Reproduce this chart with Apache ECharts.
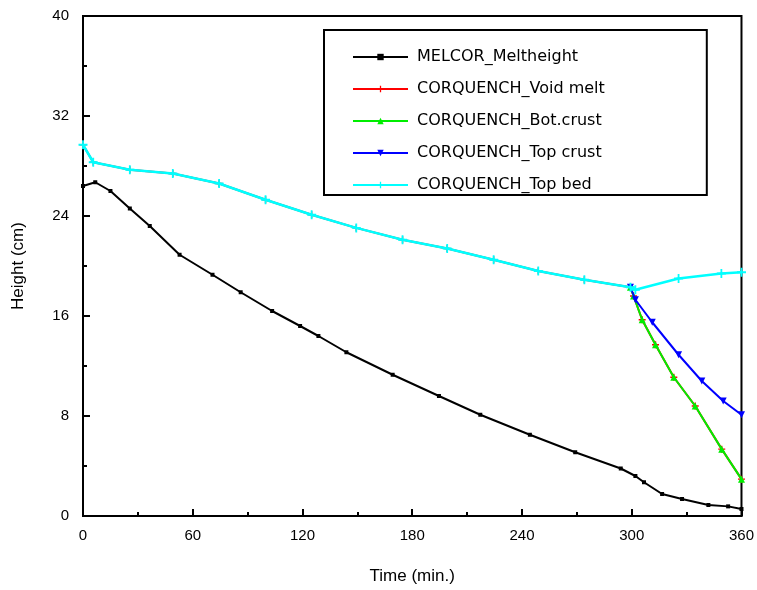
<!DOCTYPE html>
<html>
<head>
<meta charset="utf-8">
<script src="https://cdn.jsdelivr.net/npm/echarts@6/dist/echarts.min.js"></script>
<style>html,body{margin:0;padding:0;background:#fff}#c{width:757px;height:590px}</style>
</head>
<body>
<div id="c"></div>
<script>
// Data (time in min, height in cm)
const seriesNames = ['MELCOR_Meltheight','CORQUENCH_Void melt','CORQUENCH_Bot.crust','CORQUENCH_Top crust','CORQUENCH_Top bed'];
const melcorT = [0, 6.7, 15, 25.6, 36.5, 52.8, 70.8, 86.2, 103.4, 118.7, 128.7, 144, 169.3, 194.6, 217.2, 244.3, 269.1, 294, 302, 306.7, 316.6, 327.5, 341.9, 352.7, 360];
const melcorH = [26.4, 26.7, 26.0, 24.6, 23.2, 20.9, 19.3, 17.9, 16.4, 15.2, 14.4, 13.1, 11.3, 9.6, 8.1, 6.5, 5.1, 3.8, 3.2, 2.7, 1.76, 1.36, 0.88, 0.77, 0.56];
const topBedT = [0, 5.6, 25.6, 49.1, 74.4, 99.8, 125, 149.4, 174.7, 199.1, 224.5, 248.9, 274.1, 299.3, 302, 325.6, 349, 360];
const topBedH = [29.7, 28.3, 27.7, 27.4, 26.6, 25.3, 24.1, 23.05, 22.1, 21.4, 20.5, 19.6, 18.9, 18.3, 18.1, 19.0, 19.4, 19.5];
const voidT = [0, 5.6, 25.6, 49.1, 74.4, 99.8, 125, 149.4, 174.7, 199.1, 224.5, 248.9, 274.1, 299.3, 301, 305.7, 313, 323, 334.7, 349.2, 360];
const voidH = [29.7, 28.3, 27.7, 27.4, 26.6, 25.3, 24.1, 23.05, 22.1, 21.4, 20.5, 19.6, 18.9, 18.3, 17.6, 15.7, 13.7, 11.1, 8.8, 5.35, 2.95];
const botT = [299.3, 301, 305.7, 313, 323, 334.7, 349.2, 360];
const botH = [18.3, 17.6, 15.7, 13.7, 11.1, 8.8, 5.35, 2.95];
const topCrustT = [299.3, 302, 311.2, 325.6, 338.3, 350, 360];
const topCrustH = [18.3, 17.3, 15.5, 12.9, 10.8, 9.2, 8.1];
const xTicks = [0, 60, 120, 180, 240, 300, 360];
const yTicks = [0, 8, 16, 24, 32, 40];

const zip = (a, b) => a.map((v, i) => [v, b[i]]);
const cross = 'path://M4,0 L6,0 L6,4 L10,4 L10,6 L6,6 L6,10 L4,10 L4,6 L0,6 L0,4 L4,4 Z';
const font = 'Liberation Sans, Arial, sans-serif';

const chart = echarts.init(document.getElementById('c'), null, {renderer: 'canvas'});
chart.setOption({
  animation: false,
  backgroundColor: '#fff',
  grid: {left: 83, right: 10, top: 16, bottom: 73, show: true, borderColor: '#000', borderWidth: 2, backgroundColor: 'transparent'},
  legend: {
    orient: 'vertical', left: 324, top: 30,
    data: seriesNames,
    itemWidth: 55, itemHeight: 8, itemGap: 16,
    padding: [19, 102, 2, 28],
    borderColor: '#000', borderWidth: 2,
    textStyle: {fontFamily: 'DejaVu Sans, sans-serif', fontSize: 16, color: '#000', padding: [0, 0, 0, 4]}
  },
  xAxis: {
    type: 'value', min: xTicks[0], max: xTicks[xTicks.length - 1], interval: 60,
    name: 'Time (min.)', nameLocation: 'middle', nameGap: 52,
    nameTextStyle: {fontFamily: font, fontSize: 17, color: '#000'},
    axisLine: {lineStyle: {color: '#000', width: 2}},
    axisTick: {inside: true, length: 7, lineStyle: {color: '#000', width: 2}},
    minorTick: {show: true, splitNumber: 2, length: 4, lineStyle: {color: '#000', width: 2}},
    axisLabel: {fontFamily: font, fontSize: 15, color: '#000', margin: 12},
    splitLine: {show: false}
  },
  yAxis: {
    type: 'value', min: yTicks[0], max: yTicks[yTicks.length - 1], interval: 8,
    name: 'Height (cm)', nameLocation: 'middle', nameGap: 56, nameRotate: 90,
    nameTextStyle: {fontFamily: font, fontSize: 17, color: '#000'},
    axisLine: {lineStyle: {color: '#000', width: 2}},
    axisTick: {inside: true, length: 7, lineStyle: {color: '#000', width: 2}},
    minorTick: {show: true, splitNumber: 2, length: 4, lineStyle: {color: '#000', width: 2}},
    axisLabel: {fontFamily: font, fontSize: 15, color: '#000', margin: 14},
    splitLine: {show: false}
  },
  series: [
    {name: seriesNames[0], type: 'line', data: zip(melcorT, melcorH), color: '#000',
     lineStyle: {width: 2}, symbol: 'rect', symbolSize: 4, z: 5},
    {name: seriesNames[1], type: 'line', data: zip(voidT, voidH), color: '#ff0000',
     lineStyle: {width: 2}, symbol: cross, symbolSize: 7, z: 1},
    {name: seriesNames[2], type: 'line', data: zip(botT, botH), color: '#00ee00',
     lineStyle: {width: 2}, symbol: 'triangle', symbolSize: 7, z: 2},
    {name: seriesNames[3], type: 'line', data: zip(topCrustT, topCrustH), color: '#0000ff',
     lineStyle: {width: 2}, symbol: 'triangle', symbolRotate: 180, symbolSize: 7, z: 3},
    {name: seriesNames[4], type: 'line', data: zip(topBedT, topBedH), color: '#00ffff',
     lineStyle: {width: 2.5}, symbol: cross, symbolSize: 9, z: 4}
  ]
});
</script>
</body>
</html>
